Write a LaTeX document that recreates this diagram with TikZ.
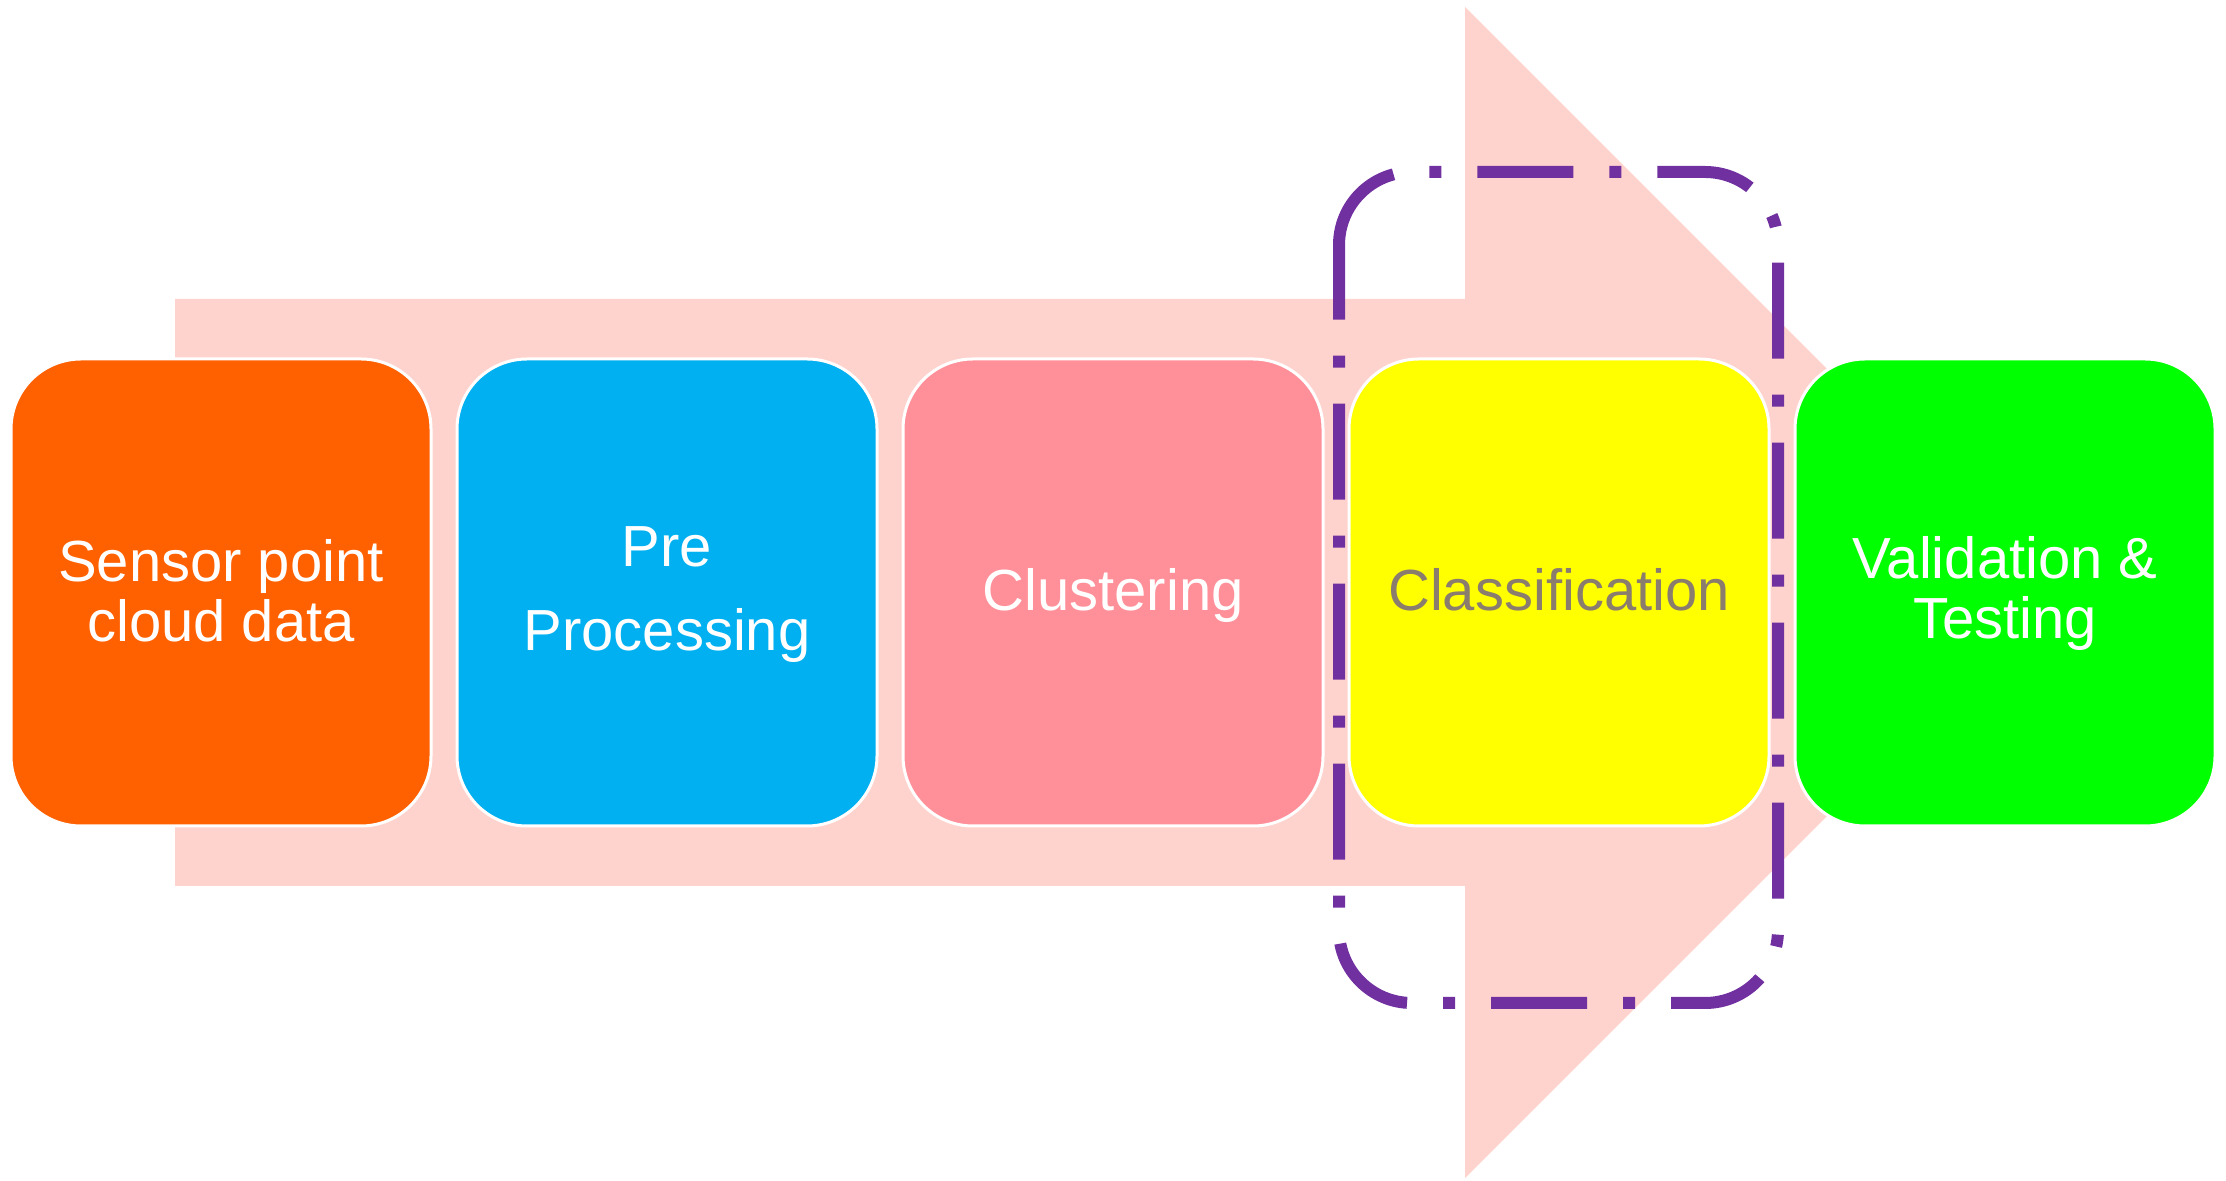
\documentclass[tikz,border=0pt]{standalone}
\usepackage{fontspec}
\setmainfont{Liberation Sans}
\definecolor{arrowpink}{RGB}{255,211,205}
\definecolor{boxorange}{RGB}{255,96,0}
\definecolor{boxblue}{RGB}{0,176,240}
\definecolor{boxpink}{RGB}{255,144,154}
\definecolor{boxyellow}{RGB}{255,255,0}
\definecolor{boxgreen}{RGB}{0,255,0}
\definecolor{classgray}{RGB}{138,125,110}
\definecolor{dashpurple}{RGB}{112,48,160}
\tikzset{
  stagebox/.style={draw=white, line width=3pt, rounded corners=70pt,
    minimum width=420pt, minimum height=467pt, inner sep=0pt},
  stagetext/.style={text=white, align=center, inner sep=0pt,
    font=\fontsize{58}{60}\selectfont},
  focusline/.style={draw=dashpurple, line width=12pt, line cap=butt,
    dash pattern=on 96pt off 36pt on 12pt off 36pt}
}
\begin{document}
\begin{tikzpicture}[x=1pt,y=1pt]
\useasboundingbox (0,0) rectangle (2226,1180);
% big background arrow
\fill[arrowpink] (175,881) -- (1465,881) -- (1465,1173) -- (2050.5,587.5)
  -- (1465,2) -- (1465,294) -- (175,294) -- cycle;
% stage boxes
\node[stagebox, fill=boxorange] (b1) at (221,587.5) {};
\node[stagebox, fill=boxblue]   (b2) at (667,587.5) {};
\node[stagebox, fill=boxpink]   (b3) at (1113,587.5) {};
\node[stagebox, fill=boxyellow] (b4) at (1559,587.5) {};
\node[stagebox, fill=boxgreen]  (b5) at (2005,587.5) {};
% texts
\node[stagetext] (t1) at (221,589.6) {Sensor point\\cloud data};
\node[stagetext] (t2) at (667,585) {Pre\\[24pt]Processing};
\node[stagetext] (t3) at (1113,584) {Clustering};
\node[stagetext, text=classgray] (t4) at (1559,590) {Classification};
\node[stagetext] (t5) at (2005,586) {Validation \&\\Testing};
% dash-dot focus frame
\draw[focusline] (1339,935) arc[start angle=180, end angle=90, radius=73]
  -- (1705,1008) arc[start angle=90, end angle=0, radius=73]
  -- (1778,250) arc[start angle=0, end angle=-90, radius=73]
  -- (1412,177) arc[start angle=270, end angle=180, radius=73]
  -- cycle;
\end{tikzpicture}
\end{document}
